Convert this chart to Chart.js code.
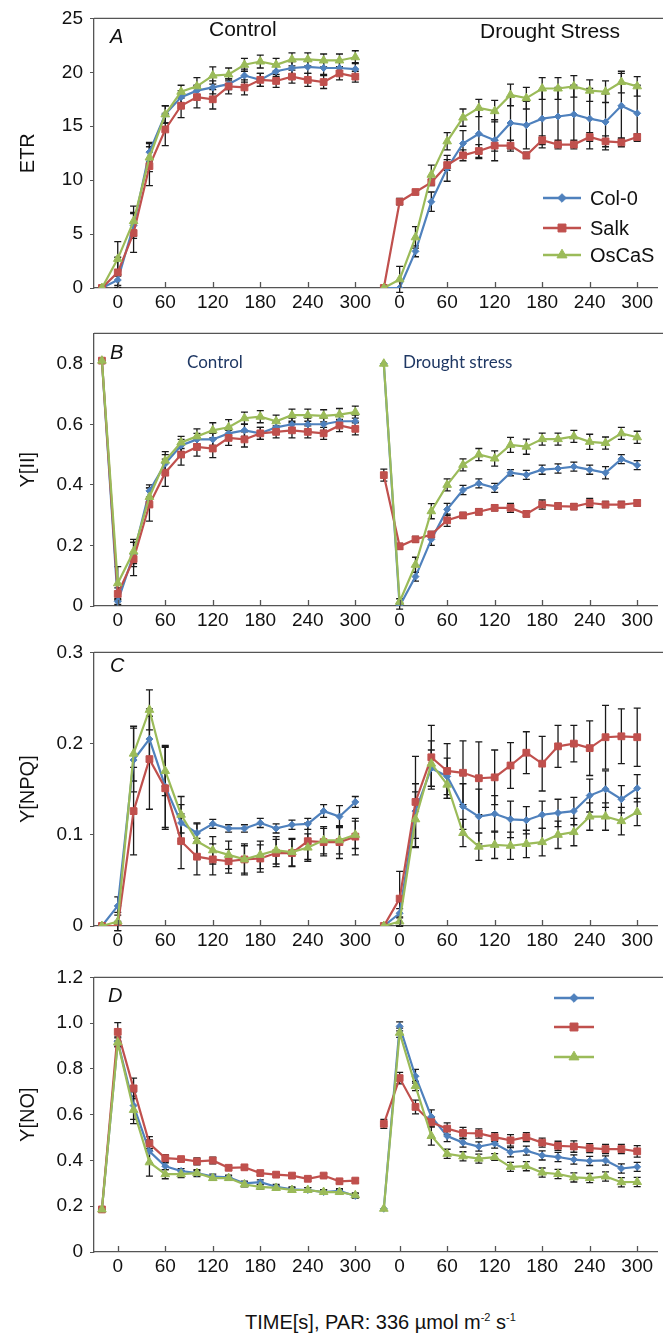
<!DOCTYPE html>
<html lang="en">
<head>
<meta charset="UTF-8">
<title>ETR, Y(II), Y(NPQ), Y(NO) - Control vs Drought Stress</title>
<script src="https://cdn.jsdelivr.net/npm/chart.js"></script>
<style>
  html, body { margin: 0; padding: 0; background: #fff; }
  body { width: 663px; height: 1335px; position: relative; overflow: hidden;
         font-family: "Liberation Sans", Arial, sans-serif; color: #111; }
  .panel { position: absolute; left: 0; width: 663px; }
  .note { position: absolute; white-space: nowrap; line-height: 1; }
  .letter { font-style: italic; font-size: 20px; }
  .cond { font-size: 21px; }
  .condB { font-family: Lato, "Open Sans", sans-serif; font-size: 17px; color: #1f3864; }
  .xtitle { font-size: 20px; }
  .xtitle sup { font-size: 11px; vertical-align: 8px; line-height: 0; }
</style>
</head>
<body>
<div class="panel" style="top:0px;height:318px"><canvas id="chartA"></canvas></div>
<div class="panel" style="top:315px;height:321px"><canvas id="chartB"></canvas></div>
<div class="panel" style="top:634px;height:322px"><canvas id="chartC"></canvas></div>
<div class="panel" style="top:959px;height:323px"><canvas id="chartD"></canvas></div>

<div class="note letter" style="left:110px;top:26px">A</div>
<div class="note cond" style="left:209px;top:18px">Control</div>
<div class="note cond" style="left:480px;top:20px">Drought Stress</div>
<div class="note letter" style="left:110px;top:342px">B</div>
<div class="note condB" style="left:187px;top:353px">Control</div>
<div class="note condB" style="left:403px;top:353px">Drought stress</div>
<div class="note letter" style="left:110px;top:655px">C</div>
<div class="note letter" style="left:108px;top:985px">D</div>
<div class="note xtitle" style="left:245px;top:1312px">TIME[s], PAR: 336 µmol m<sup>-2</sup> s<sup>-1</sup></div>

<script>
// time points (s) of each light step, same for both conditions
var times = [-20, 0, 20, 40, 60, 80, 100, 120, 140, 160, 180, 200, 220, 240, 260, 280, 300];
var xTickLabels = [0, 60, 120, 180, 240, 300];
var seriesNames = ['Col-0', 'Salk', 'OsCaS'];

// A: ETR
var etrTicks = [0, 5, 10, 15, 20, 25];
var etrCtrlCol0 = [0, 0.74, 5.8, 12.6, 16.1, 17.7, 18.3, 18.6, 18.9, 19.7, 19.3, 20.1, 20.4, 20.5, 20.4, 20.4, 20.3];
var etrCtrlSalk = [0, 1.45, 5.1, 11.3, 14.7, 16.9, 17.7, 17.5, 18.7, 18.6, 19.3, 19.2, 19.6, 19.3, 19.1, 19.9, 19.6];
var etrCtrlOsCaS = [0, 2.7, 6.2, 12.1, 16.1, 18.2, 18.7, 19.7, 19.8, 20.7, 21.0, 20.7, 21.2, 21.2, 21.1, 21.1, 21.4];
var etrCtrlCol0Err = [0, 0.5, 1.2, 0.9, 0.8, 0.6, 0.5, 0.6, 0.5, 0.6, 0.6, 0.5, 0.6, 0.6, 0.6, 0.6, 0.6];
var etrCtrlSalkErr = [0, 1.4, 1.8, 1.8, 1.5, 1.1, 1.0, 0.9, 0.7, 0.7, 0.6, 0.6, 0.6, 0.6, 0.6, 0.6, 0.5];
var etrCtrlOsCaSErr = [0, 1.6, 1.4, 1.3, 0.8, 0.6, 0.8, 0.8, 0.6, 0.6, 0.6, 0.6, 0.6, 0.6, 0.6, 0.6, 0.6];
var etrDrCol0 = [0, 0, 3.4, 8.0, 11.1, 13.4, 14.3, 13.7, 15.3, 15.1, 15.7, 15.9, 16.1, 15.7, 15.4, 16.9, 16.2];
var etrDrSalk = [0, 8.0, 8.9, 9.8, 11.4, 12.3, 12.7, 13.2, 13.2, 12.3, 13.7, 13.3, 13.3, 14.0, 13.6, 13.5, 14.0];
var etrDrOsCaS = [0, 0.8, 4.7, 10.5, 13.6, 15.8, 16.7, 16.4, 17.9, 17.6, 18.5, 18.5, 18.7, 18.3, 18.2, 19.1, 18.7];
var etrDrCol0Err = [0, 0, 0.5, 0.9, 1.2, 1.2, 2.3, 1.9, 2.4, 2.2, 2.7, 2.7, 2.7, 2.8, 2.6, 3.0, 2.6];
var etrDrSalkErr = [0, 0.3, 0.2, 0.3, 0.5, 0.5, 0.6, 0.5, 0.5, 0.3, 0.4, 0.4, 0.4, 0.4, 0.5, 0.4, 0.3];
var etrDrOsCaSErr = [0, 1.2, 1.0, 0.9, 0.8, 0.8, 0.8, 1.0, 1.0, 1.0, 1.0, 1.0, 1.0, 1.0, 1.0, 1.0, 0.9];

// B: Y[II]
var y2Ticks = [0, 0.2, 0.4, 0.6, 0.8];
var y2CtrlCol0 = [0.81, 0.015, 0.17, 0.38, 0.47, 0.53, 0.55, 0.55, 0.57, 0.58, 0.57, 0.59, 0.60, 0.60, 0.60, 0.61, 0.61];
var y2CtrlSalk = [0.81, 0.04, 0.155, 0.335, 0.44, 0.50, 0.525, 0.52, 0.555, 0.55, 0.57, 0.575, 0.58, 0.575, 0.57, 0.596, 0.585];
var y2CtrlOsCaS = [0.81, 0.075, 0.18, 0.36, 0.48, 0.54, 0.56, 0.58, 0.59, 0.62, 0.625, 0.61, 0.63, 0.63, 0.628, 0.632, 0.64];
var y2CtrlCol0Err = [0, 0.01, 0.04, 0.02, 0.03, 0.02, 0.02, 0.02, 0.02, 0.02, 0.02, 0.02, 0.02, 0.02, 0.02, 0.02, 0.02];
var y2CtrlSalkErr = [0, 0.02, 0.055, 0.055, 0.045, 0.035, 0.03, 0.03, 0.025, 0.025, 0.02, 0.02, 0.025, 0.02, 0.02, 0.02, 0.02];
var y2CtrlOsCaSErr = [0, 0.055, 0.04, 0.03, 0.03, 0.02, 0.025, 0.025, 0.025, 0.02, 0.02, 0.02, 0.02, 0.02, 0.02, 0.02, 0.02];
var y2DrCol0 = [0.80, 0.0, 0.097, 0.22, 0.319, 0.383, 0.405, 0.39, 0.44, 0.433, 0.45, 0.454, 0.46, 0.45, 0.44, 0.485, 0.465];
var y2DrSalk = [0.432, 0.197, 0.22, 0.236, 0.283, 0.299, 0.311, 0.324, 0.324, 0.304, 0.335, 0.33, 0.328, 0.34, 0.335, 0.335, 0.34];
var y2DrOsCaS = [0.80, 0.014, 0.136, 0.313, 0.40, 0.466, 0.50, 0.487, 0.532, 0.526, 0.551, 0.551, 0.56, 0.542, 0.538, 0.57, 0.557];
var y2DrCol0Err = [0, 0.01, 0.015, 0.02, 0.02, 0.015, 0.015, 0.015, 0.01, 0.015, 0.015, 0.015, 0.015, 0.015, 0.02, 0.015, 0.015];
var y2DrSalkErr = [0.02, 0.01, 0.01, 0.01, 0.02, 0.01, 0.01, 0.01, 0.015, 0.01, 0.015, 0.01, 0.01, 0.015, 0.01, 0.01, 0.01];
var y2DrOsCaSErr = [0, 0.01, 0.025, 0.025, 0.02, 0.02, 0.02, 0.025, 0.025, 0.025, 0.02, 0.02, 0.02, 0.025, 0.02, 0.02, 0.02];

// C: Y[NPQ]
var npqTicks = [0, 0.1, 0.2, 0.3];
var npqCtrlCol0 = [0, 0.022, 0.182, 0.205, 0.153, 0.113, 0.102, 0.112, 0.107, 0.107, 0.113, 0.107, 0.111, 0.112, 0.126, 0.12, 0.136];
var npqCtrlSalk = [0, 0, 0.126, 0.183, 0.151, 0.093, 0.076, 0.073, 0.071, 0.073, 0.074, 0.08, 0.08, 0.093, 0.092, 0.092, 0.098];
var npqCtrlOsCaS = [0, 0.005, 0.189, 0.237, 0.17, 0.122, 0.093, 0.083, 0.078, 0.073, 0.078, 0.083, 0.081, 0.086, 0.094, 0.094, 0.1];
var npqCtrlCol0Err = [0, 0.01, 0.035, 0.025, 0.045, 0.02, 0.01, 0.005, 0.004, 0.004, 0.005, 0.005, 0.005, 0.006, 0.007, 0.012, 0.006];
var npqCtrlSalkErr = [0, 0.005, 0.048, 0.055, 0.045, 0.03, 0.02, 0.017, 0.013, 0.017, 0.015, 0.015, 0.015, 0.02, 0.015, 0.018, 0.02];
var npqCtrlOsCaSErr = [0, 0.01, 0.03, 0.022, 0.027, 0.02, 0.02, 0.015, 0.015, 0.015, 0.015, 0.015, 0.015, 0.015, 0.015, 0.015, 0.015];
var npqDrCol0 = [0, 0.014, 0.126, 0.173, 0.164, 0.131, 0.12, 0.123, 0.117, 0.116, 0.122, 0.124, 0.126, 0.143, 0.15, 0.139, 0.151];
var npqDrSalk = [0, 0.03, 0.136, 0.185, 0.17, 0.168, 0.162, 0.163, 0.176, 0.19, 0.178, 0.197, 0.2, 0.195, 0.207, 0.208, 0.207];
var npqDrOsCaS = [0, 0.005, 0.117, 0.178, 0.155, 0.102, 0.087, 0.089, 0.088, 0.09, 0.092, 0.1, 0.103, 0.12, 0.12, 0.115, 0.125];
var npqDrCol0Err = [0, 0.005, 0.03, 0.02, 0.02, 0.025, 0.03, 0.02, 0.02, 0.015, 0.015, 0.015, 0.015, 0.018, 0.02, 0.015, 0.015];
var npqDrSalkErr = [0, 0.03, 0.05, 0.035, 0.03, 0.035, 0.04, 0.03, 0.025, 0.023, 0.03, 0.023, 0.02, 0.03, 0.035, 0.03, 0.032];
var npqDrOsCaSErr = [0, 0.005, 0.03, 0.025, 0.015, 0.015, 0.015, 0.015, 0.015, 0.015, 0.015, 0.015, 0.015, 0.015, 0.015, 0.015, 0.015];

// D: Y[NO]
var noTicks = [0, 0.2, 0.4, 0.6, 0.8, 1.0, 1.2];
var noCtrlCol0 = [0.186, 0.92, 0.64, 0.44, 0.375, 0.354, 0.345, 0.33, 0.326, 0.30, 0.305, 0.285, 0.274, 0.271, 0.262, 0.267, 0.245];
var noCtrlSalk = [0.186, 0.962, 0.715, 0.474, 0.41, 0.406, 0.396, 0.40, 0.368, 0.37, 0.345, 0.338, 0.334, 0.32, 0.334, 0.309, 0.312];
var noCtrlOsCaS = [0.186, 0.916, 0.621, 0.392, 0.34, 0.34, 0.345, 0.323, 0.323, 0.295, 0.285, 0.28, 0.271, 0.271, 0.262, 0.262, 0.248];
var noCtrlCol0Err = [0, 0.02, 0.06, 0.05, 0.015, 0.01, 0.01, 0.01, 0.01, 0.01, 0.01, 0.01, 0.01, 0.01, 0.01, 0.01, 0.01];
var noCtrlSalkErr = [0, 0.04, 0.045, 0.03, 0.015, 0.01, 0.015, 0.015, 0.01, 0.01, 0.01, 0.01, 0.01, 0.01, 0.01, 0.01, 0.01];
var noCtrlOsCaSErr = [0, 0.02, 0.06, 0.06, 0.02, 0.015, 0.015, 0.01, 0.01, 0.01, 0.01, 0.01, 0.01, 0.01, 0.01, 0.01, 0.01];
var noDrCol0 = [0.189, 0.986, 0.768, 0.591, 0.507, 0.478, 0.461, 0.474, 0.436, 0.443, 0.422, 0.415, 0.404, 0.398, 0.40, 0.365, 0.372];
var noDrSalk = [0.56, 0.76, 0.634, 0.567, 0.539, 0.52, 0.518, 0.502, 0.488, 0.502, 0.478, 0.464, 0.461, 0.454, 0.45, 0.45, 0.44];
var noDrOsCaS = [0.189, 0.958, 0.725, 0.507, 0.429, 0.418, 0.408, 0.415, 0.372, 0.375, 0.347, 0.341, 0.326, 0.323, 0.33, 0.305, 0.306];
var noDrCol0Err = [0, 0.02, 0.03, 0.03, 0.025, 0.02, 0.02, 0.02, 0.02, 0.02, 0.02, 0.02, 0.02, 0.02, 0.02, 0.02, 0.02];
var noDrSalkErr = [0.02, 0.025, 0.03, 0.02, 0.025, 0.025, 0.02, 0.02, 0.025, 0.02, 0.02, 0.02, 0.025, 0.02, 0.02, 0.02, 0.025];
var noDrOsCaSErr = [0, 0.02, 0.02, 0.04, 0.02, 0.02, 0.02, 0.015, 0.02, 0.02, 0.02, 0.02, 0.02, 0.02, 0.02, 0.02, 0.02];

// drought block is drawn to the right of the control block on one x axis
var droughtShift = 356;

var seriesStyle = [
    { color: '#4F81BD', pointStyle: 'rectRot', radius: 3.5, order: 2 },
    { color: '#C0504D', pointStyle: 'rect', radius: 4.8, order: 1 },
    { color: '#9BBB59', pointStyle: 'triangle', radius: 5, order: 0 }
];

function makeDataset(k, values, errs, shift) {
    var st = seriesStyle[k];
    return {
        label: seriesNames[k],
        data: times.map(function(t, i) { return { x: t + shift, y: values[i] }; }),
        errors: errs,
        borderColor: st.color,
        backgroundColor: st.color,
        borderWidth: 2.2,
        pointStyle: st.pointStyle,
        pointRadius: st.radius,
        pointBorderWidth: 1,
        tension: 0,
        order: st.order
    };
}

var extrasPlugin = {
    id: 'extras',
    beforeDatasetsDraw: function(chart) {
        // error bars
        var ctx = chart.ctx, xs = chart.scales.x, ys = chart.scales.y;
        ctx.save();
        ctx.strokeStyle = '#1a1a1a';
        ctx.lineWidth = 1.3;
        chart.data.datasets.forEach(function(ds) {
            ds.data.forEach(function(p, j) {
                var e = ds.errors[j];
                if (!e) return;
                var x = xs.getPixelForValue(p.x);
                var yt = ys.getPixelForValue(p.y + e);
                var yb = ys.getPixelForValue(p.y - e);
                ctx.beginPath();
                ctx.moveTo(x, yt); ctx.lineTo(x, yb);
                ctx.moveTo(x - 3.5, yt); ctx.lineTo(x + 3.5, yt);
                ctx.moveTo(x - 3.5, yb); ctx.lineTo(x + 3.5, yb);
                ctx.stroke();
            });
        });
        ctx.restore();
    },
    afterDraw: function(chart, args, opts) {
        var ctx = chart.ctx, area = chart.chartArea, xs = chart.scales.x;
        ctx.save();
        ctx.strokeStyle = '#555';
        ctx.lineWidth = 1.3;
        // top frame line
        ctx.beginPath();
        ctx.moveTo(area.left, area.top);
        ctx.lineTo(chart.width, area.top);
        ctx.stroke();
        // inward x tick marks
        ctx.beginPath();
        xs.ticks.forEach(function(t) {
            var px = Math.round(xs.getPixelForValue(t.value)) + 0.5;
            ctx.moveTo(px, area.bottom);
            ctx.lineTo(px, area.bottom - 6);
        });
        ctx.stroke();
        // legend entries
        if (opts.legend) {
            var lg = opts.legend;
            seriesStyle.forEach(function(st, k) {
                var y = lg.ys[k];
                ctx.strokeStyle = st.color;
                ctx.fillStyle = st.color;
                ctx.lineWidth = 2.6;
                ctx.beginPath();
                ctx.moveTo(lg.x0, y); ctx.lineTo(lg.x1, y);
                ctx.stroke();
                ctx.lineWidth = 1;
                Chart.helpers.drawPoint(ctx, { pointStyle: st.pointStyle, radius: st.radius + 0.8, rotation: 0, borderWidth: 1 }, (lg.x0 + lg.x1) / 2, y);
                if (lg.text) {
                    ctx.fillStyle = '#111';
                    ctx.font = '20px "Liberation Sans", Arial, sans-serif';
                    ctx.textBaseline = 'middle';
                    ctx.fillText(seriesNames[k], lg.x1 + 9, y + 1);
                }
            });
        }
        ctx.restore();
    }
};

function buildChart(id, yTitle, yTicks, yMax, ctrl, dr, legend) {
    var datasets = [];
    for (var k = 0; k < 3; k++) {
        datasets.push(makeDataset(k, ctrl[k][0], ctrl[k][1], 0));
        datasets.push(makeDataset(k, dr[k][0], dr[k][1], droughtShift));
    }
    var xTickPos = xTickLabels.concat(xTickLabels.map(function(v) { return v + droughtShift; }));
    return new Chart(document.getElementById(id), {
        type: 'line',
        data: { datasets: datasets },
        plugins: [extrasPlugin],
        options: {
            responsive: true,
            maintainAspectRatio: false,
            animation: false,
            events: [],
            layout: { padding: { top: 18, right: 0, bottom: 0, left: 0 } },
            plugins: {
                legend: { display: false },
                tooltip: { enabled: false },
                extras: { legend: legend }
            },
            scales: {
                x: {
                    type: 'linear',
                    min: -30,
                    max: 681,
                    afterBuildTicks: function(scale) {
                        scale.ticks = xTickPos.map(function(v) { return { value: v }; });
                    },
                    afterFit: function(scale) { scale.height = 30; },
                    grid: { display: true, drawOnChartArea: false, drawTicks: false },
                    border: { color: '#555', width: 1.3 },
                    ticks: {
                        padding: 3,
                        color: '#111',
                        font: { family: '"Liberation Sans", Arial, sans-serif', size: 19 },
                        maxRotation: 0,
                        autoSkip: false,
                        callback: function(v) { return v >= droughtShift - 40 ? v - droughtShift : v; }
                    }
                },
                y: {
                    min: 0,
                    max: yMax,
                    afterBuildTicks: function(scale) {
                        scale.ticks = yTicks.map(function(v) { return { value: v }; });
                    },
                    afterFit: function(scale) { scale.width = 94; },
                    grid: { drawOnChartArea: false, drawTicks: true, tickLength: 4, color: '#555' },
                    border: { color: '#555', width: 1.3 },
                    title: {
                        display: true,
                        text: yTitle,
                        color: '#111',
                        padding: { top: 16, bottom: 0 },
                        font: { family: '"Liberation Sans", Arial, sans-serif', size: 20 }
                    },
                    ticks: {
                        padding: 7,
                        color: '#111',
                        font: { family: '"Liberation Sans", Arial, sans-serif', size: 19 },
                        callback: function(v) {
                            if (yMax > 2) return String(v);
                            return v === 0 ? '0' : v.toFixed(1);
                        }
                    }
                }
            }
        }
    });
}

buildChart('chartA', 'ETR', etrTicks, 25,
    [[etrCtrlCol0, etrCtrlCol0Err], [etrCtrlSalk, etrCtrlSalkErr], [etrCtrlOsCaS, etrCtrlOsCaSErr]],
    [[etrDrCol0, etrDrCol0Err], [etrDrSalk, etrDrSalkErr], [etrDrOsCaS, etrDrOsCaSErr]],
    { x0: 543, x1: 581, ys: [198, 228, 255], text: true });

buildChart('chartB', 'Y[II]', y2Ticks, 0.9,
    [[y2CtrlCol0, y2CtrlCol0Err], [y2CtrlSalk, y2CtrlSalkErr], [y2CtrlOsCaS, y2CtrlOsCaSErr]],
    [[y2DrCol0, y2DrCol0Err], [y2DrSalk, y2DrSalkErr], [y2DrOsCaS, y2DrOsCaSErr]],
    null);

buildChart('chartC', 'Y[NPQ]', npqTicks, 0.3,
    [[npqCtrlCol0, npqCtrlCol0Err], [npqCtrlSalk, npqCtrlSalkErr], [npqCtrlOsCaS, npqCtrlOsCaSErr]],
    [[npqDrCol0, npqDrCol0Err], [npqDrSalk, npqDrSalkErr], [npqDrOsCaS, npqDrOsCaSErr]],
    null);

buildChart('chartD', 'Y[NO]', noTicks, 1.2,
    [[noCtrlCol0, noCtrlCol0Err], [noCtrlSalk, noCtrlSalkErr], [noCtrlOsCaS, noCtrlOsCaSErr]],
    [[noDrCol0, noDrCol0Err], [noDrSalk, noDrSalkErr], [noDrOsCaS, noDrOsCaSErr]],
    { x0: 554, x1: 594, ys: [39, 68, 98], text: false });
</script>
</body>
</html>
